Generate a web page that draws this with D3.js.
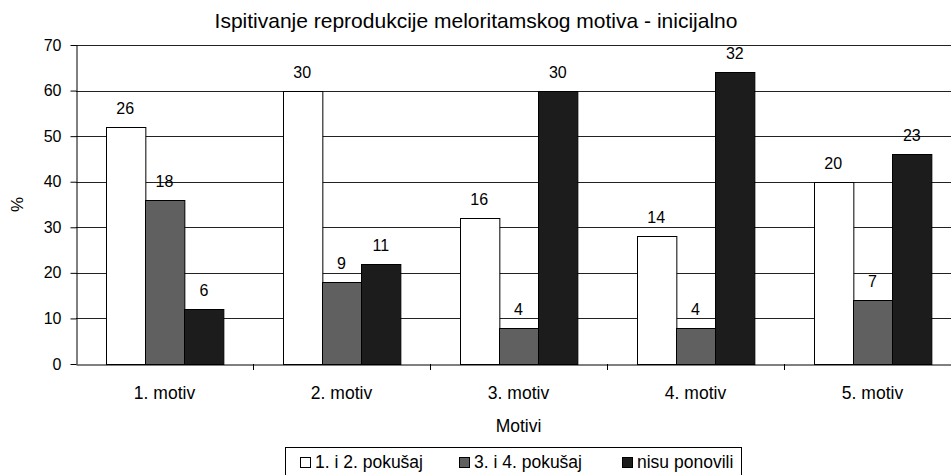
<!DOCTYPE html>
<html>
<head>
<meta charset="utf-8">
<script src="https://cdn.jsdelivr.net/npm/d3@7"></script>
<style>
  body { margin: 0; background: #fff; }
  svg { display: block; font-family: "Liberation Sans", Arial, sans-serif; }
</style>
</head>
<body>
<div id="container"></div>
<script>
// chart data
const categories = ["1. motiv", "2. motiv", "3. motiv", "4. motiv", "5. motiv"];
const seriesNames = ["1. i 2. pokušaj", "3. i 4. pokušaj", "nisu ponovili"];
const seriesColors = ["#ffffff", "#606060", "#1c1c1c"];
// bar heights in %
const pct12 = [52, 60, 32, 28, 40];
const pct34 = [36, 18, 8, 8, 14];
const pctNone = [12, 22, 60, 64, 46];
// counts shown above the bars
const cnt12 = [26, 30, 16, 14, 20];
const cnt34 = [18, 9, 4, 4, 7];
const cntNone = [6, 11, 30, 32, 23];
const yTicks = [0, 10, 20, 30, 40, 50, 60, 70];

const pctSeries = [pct12, pct34, pctNone];
const cntSeries = [cnt12, cnt34, cntNone];

const width = 951;
const height = 475;
const marginTop = 45;
const marginLeft = 76;
const plotRight = 961; // plot runs past the right edge of the picture
const marginBottom = 111;

const data = [];
categories.forEach((c, i) => {
  seriesNames.forEach((s, j) => {
    data.push({cat: c, series: s, idx: j, value: pctSeries[j][i], count: cntSeries[j][i]});
  });
});

const x = d3.scaleBand()
    .domain(categories)
    .range([marginLeft, plotRight])
    .paddingInner(0)
    .paddingOuter(0);

// excel gap width 150% -> 3 bars + 1.5 bar of gap per band
const barW = x.bandwidth() / 4.5;
const xs = d3.scaleBand()
    .domain(seriesNames)
    .range([barW * 0.75, barW * 3.75]);

const y = d3.scaleLinear()
    .domain([0, 70])
    .range([height - marginBottom, marginTop]);

const svg = d3.create("svg")
    .attr("width", width)
    .attr("height", height)
    .attr("viewBox", [0, 0, width, height]);

// title
svg.append("text")
    .attr("x", 476)
    .attr("y", 28)
    .attr("text-anchor", "middle")
    .attr("font-size", 21)
    .text("Ispitivanje reprodukcije meloritamskog motiva - inicijalno");

// gridlines
svg.append("g")
  .selectAll("line")
  .data(yTicks.filter(d => d > 0))
  .join("line")
    .attr("x1", marginLeft)
    .attr("x2", plotRight)
    .attr("y1", d => Math.round(y(d)) + 0.5)
    .attr("y2", d => Math.round(y(d)) + 0.5)
    .attr("stroke", "#222")
    .attr("stroke-width", 1);

// bars
svg.append("g")
  .selectAll("rect")
  .data(data)
  .join("rect")
    .attr("x", d => Math.round(x(d.cat) + xs(d.series)) + 0.5)
    .attr("y", d => Math.round(y(d.value)) + 0.5)
    .attr("width", xs.bandwidth())
    .attr("height", d => Math.round(y(0)) - Math.round(y(d.value)))
    .attr("fill", d => seriesColors[d.idx])
    .attr("stroke", "#000")
    .attr("stroke-width", 1);

// value labels
svg.append("g")
  .selectAll("text")
  .data(data)
  .join("text")
    .attr("x", d => x(d.cat) + xs(d.series) + xs.bandwidth() / 2)
    .attr("y", d => y(d.value) - 13)
    .attr("text-anchor", "middle")
    .attr("font-size", 16)
    .text(d => d.count);

// y axis
svg.append("g")
    .attr("transform", `translate(${marginLeft + 0.5},0)`)
    .call(d3.axisLeft(y).tickValues(yTicks).tickSize(6).tickPadding(9).tickSizeOuter(0))
    .call(g => g.selectAll("text").attr("font-size", 16).attr("fill", "#000"))
    .call(g => g.selectAll("line,path").attr("stroke", "#000"));

// x axis
svg.append("g")
    .attr("transform", `translate(0,${Math.round(y(0)) + 0.5})`)
    .call(d3.axisBottom(x).tickSize(0).tickPadding(22).tickSizeOuter(0))
    .call(g => g.select(".domain").attr("stroke", "#000"))
    .call(g => g.selectAll("text").attr("font-size", 17.5).attr("fill", "#000"));

// category separator ticks
svg.append("g")
  .selectAll("line")
  .data(categories.slice(1))
  .join("line")
    .attr("x1", d => Math.round(x(d)) + 0.5)
    .attr("x2", d => Math.round(x(d)) + 0.5)
    .attr("y1", Math.round(y(0)))
    .attr("y2", Math.round(y(0)) + 6)
    .attr("stroke", "#000");

// axis titles
svg.append("text")
    .attr("transform", `translate(23,${(y(0) + y(70)) / 2}) rotate(-90)`)
    .attr("text-anchor", "middle")
    .attr("font-size", 17)
    .text("%");

svg.append("text")
    .attr("x", (marginLeft + plotRight) / 2)
    .attr("y", 432)
    .attr("text-anchor", "middle")
    .attr("font-size", 17.5)
    .text("Motivi");

// legend
const legend = svg.append("g");
legend.append("rect")
    .attr("x", 285.5)
    .attr("y", 447.5)
    .attr("width", 456)
    .attr("height", 30)
    .attr("fill", "#fff")
    .attr("stroke", "#000");

const legendX = [300, 459, 622];
seriesNames.forEach((s, j) => {
  legend.append("rect")
      .attr("x", legendX[j] + 0.5)
      .attr("y", 457.5)
      .attr("width", 10)
      .attr("height", 10)
      .attr("fill", seriesColors[j])
      .attr("stroke", "#000");
  legend.append("text")
      .attr("x", legendX[j] + 15)
      .attr("y", 468)
      .attr("font-size", 17.5)
      .text(s);
});

container.append(svg.node());
</script>
</body>
</html>
